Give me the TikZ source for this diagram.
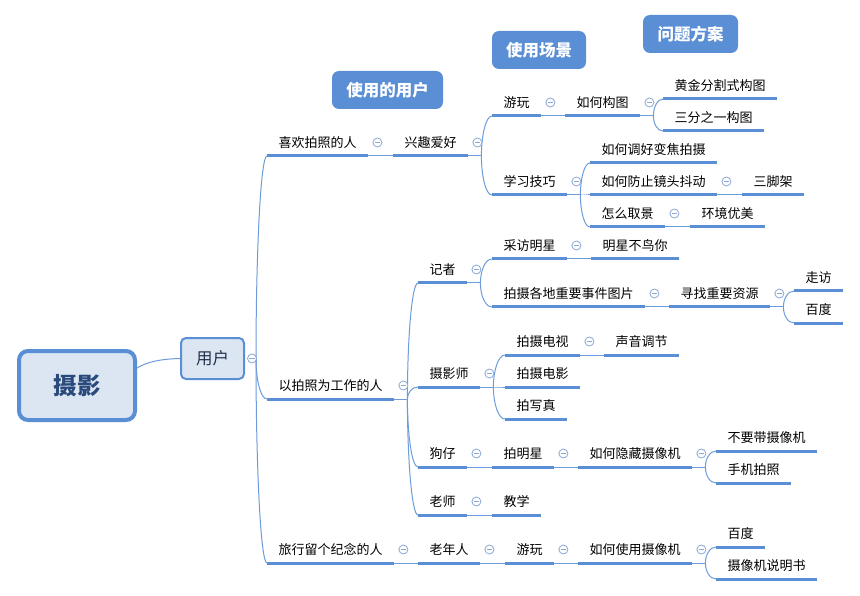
\documentclass[tikz,border=0pt]{standalone}
\usepackage{fontspec}
\newfontfamily\cjk{Noto Sans CJK SC}
\usetikzlibrary{calc}

\definecolor{ulc}{HTML}{5B8FD5}
\definecolor{lnc}{HTML}{6D9CDB}
\definecolor{fdc}{HTML}{8BA7D6}
\definecolor{hdc}{HTML}{5A8ED5}
\definecolor{rootfill}{HTML}{DCE6F2}
\definecolor{roottext}{HTML}{2B4A7C}
\definecolor{usertext}{HTML}{1F2D4A}

\tikzset{
  topic/.style={anchor=south west, inner xsep=11.5pt, inner ysep=0pt,
    text height=11pt, text depth=8.6pt,
    font=\cjk\fontsize{13}{13}\selectfont, text=black},
  uline/.style={draw=ulc, line width=3pt},
  conn/.style={draw=lnc, line width=1pt},
  fold/.style={circle, draw=fdc, line width=0.8pt, fill=white,
    minimum size=9pt, inner sep=0pt,
    path picture={\draw[fdc, line width=0.8pt]
      ([xshift=-2.6pt]path picture bounding box.center) --
      ([xshift=2.6pt]path picture bounding box.center);}},
  header/.style={fill=hdc, rounded corners=7pt, text=white,
    font=\cjk\bfseries\fontsize{16.5}{16.5}\selectfont,
    inner sep=0pt, minimum height=38pt},
}

% a topic: text with its thick underline
\newcommand\topic[4]{%
  \node[topic] (#1) at (#2,#3) {#4};
  \draw[uline] (#1.south west) -- (#1.south east);}
% collapse marker after a topic
\newcommand\fold[1]{\node[fold] (f-#1) at ($(#1.south east)+(9,-13.5)$) {};}
% straight link between a topic and its only child
\newcommand\single[2]{\draw[conn] (#1.south east) -- (#2.south west);}
% curved link from a branch point to a child
\newcommand\linkto[2]{\draw[conn] let \p1=(#1), \p2=(#2) in
  (\p1) .. controls (\x1,{\y1+0.5*(\y2-\y1)}) and ({\x1+0.4*(\x2-\x1)},\y2) .. (\p2);}
% fan of links from a topic to several children
\newcommand\spread[2]{%
  \coordinate (b-#1) at ($(#1.south east)+(13,0)$);
  \draw[conn] (#1.south east) -- (b-#1);
  \foreach \c in {#2} {\linkto{b-#1}{\c.south west}}}

\begin{document}
\begin{tikzpicture}[x=1pt,y=-1pt]
\fill[white] (0,0) rectangle (860,596);
\useasboundingbox (0,0) rectangle (860,596);

% column headers
\node[header, minimum width=111pt] (h1) at (387.5,90) {使用的用户};
\node[header, minimum width=94pt] (h2) at (539,50) {使用场景};
\node[header, minimum width=95pt] (h3) at (690.5,34) {问题方案};

% central topic and first level
\node[draw=ulc, line width=4pt, fill=rootfill, rounded corners=9pt,
  minimum width=116pt, minimum height=69pt, inner sep=0pt,
  font=\cjk\bfseries\fontsize{23.5}{23.5}\selectfont, text=roottext]
  (root) at (77,385.5) {摄影};
\node[draw=ulc, line width=2pt, fill=rootfill, rounded corners=5pt,
  minimum width=63pt, minimum height=41pt, inner sep=0pt,
  font=\cjk\fontsize{16.5}{16.5}\selectfont, text=usertext]
  (user) at (212.5,358.5) {用户};

% topics
\topic{n1}{267}{156}{喜欢拍照的人}
\topic{n2}{267}{399}{以拍照为工作的人}
\topic{n3}{267}{563}{旅行留个纪念的人}
\topic{n11}{393}{156}{兴趣爱好}
\topic{n111}{492}{116}{游玩}
\topic{n1111}{565}{116}{如何构图}
\topic{n11111}{663}{99}{黄金分割式构图}
\topic{n11112}{663}{131}{三分之一构图}
\topic{n112}{492}{195}{学习技巧}
\topic{n1121}{590}{163}{如何调好变焦拍摄}
\topic{n1122}{590}{195}{如何防止镜头抖动}
\topic{n11221}{742}{195}{三脚架}
\topic{n1123}{590}{227}{怎么取景}
\topic{n11231}{690}{227}{环境优美}
\topic{n21}{418}{283}{记者}
\topic{n211}{492}{259}{采访明星}
\topic{n2111}{591}{259}{明星不鸟你}
\topic{n212}{492}{307}{拍摄各地重要事件图片}
\topic{n2121}{669}{307}{寻找重要资源}
\topic{n21211}{794}{291}{走访}
\topic{n21212}{794}{323}{百度}
\topic{n22}{418}{387}{摄影师}
\topic{n221}{505}{355}{拍摄电视}
\topic{n2211}{604}{355}{声音调节}
\topic{n222}{505}{387}{拍摄电影}
\topic{n223}{505}{419}{拍写真}
\topic{n23}{418}{467}{狗仔}
\topic{n231}{492}{467}{拍明星}
\topic{n2311}{578}{467}{如何隐藏摄像机}
\topic{n23111}{716}{451}{不要带摄像机}
\topic{n23112}{716}{483}{手机拍照}
\topic{n24}{418}{515}{老师}
\topic{n241}{492}{515}{教学}
\topic{n31}{418}{563}{老年人}
\topic{n311}{505}{563}{游玩}
\topic{n3111}{578}{563}{如何使用摄像机}
\topic{n31111}{716}{547}{百度}
\topic{n31112}{716}{579}{摄像机说明书}

% connectors
\draw[conn] ($(root.north east)!0.26!(root.south east)$)
  .. controls (147,362) and (160,359) .. (user.west);
\coordinate (b-user) at (256,359);
\foreach \c in {n1,n2,n3} {\linkto{b-user}{\c.south west}}

\single{n1}{n11}
\single{n111}{n1111}
\single{n1122}{n11221}
\single{n1123}{n11231}
\single{n211}{n2111}
\single{n212}{n2121}
\single{n221}{n2211}
\single{n23}{n231}
\single{n231}{n2311}
\single{n24}{n241}
\single{n3}{n31}
\single{n31}{n311}
\single{n311}{n3111}

\spread{n11}{n111,n112}
\spread{n1111}{n11111,n11112}
\spread{n112}{n1121,n1122,n1123}
\spread{n2}{n21,n22,n23,n24}
\spread{n21}{n211,n212}
\spread{n2121}{n21211,n21212}
\spread{n22}{n221,n222,n223}
\spread{n2311}{n23111,n23112}
\spread{n3111}{n31111,n31112}

% collapse markers
\node[fold] (f-user) at ($(user.east)+(7,0)$) {};
\foreach \t in {n1,n11,n111,n1111,n112,n1122,n1123,n2,n21,n211,n212,n2121,
  n22,n221,n23,n231,n2311,n24,n3,n31,n311,n3111} {\fold{\t}}
\end{tikzpicture}
\end{document}
